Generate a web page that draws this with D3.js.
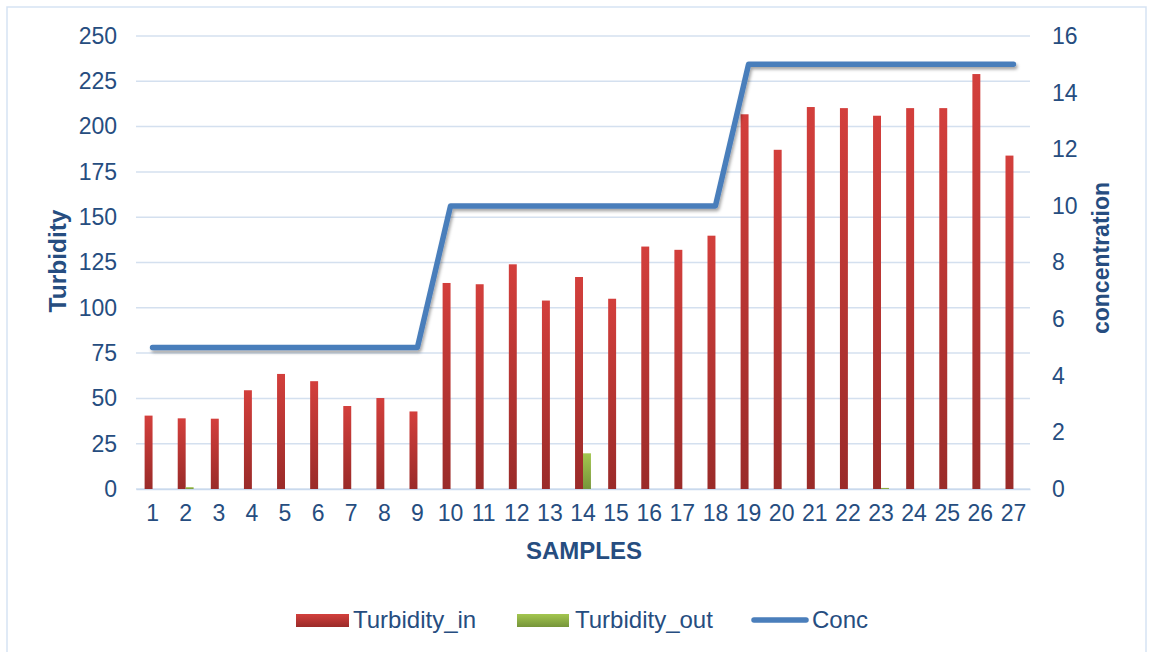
<!DOCTYPE html>
<html>
<head>
<meta charset="utf-8">
<script src="https://cdn.jsdelivr.net/npm/d3@7"></script>
<style>
  body { margin: 0; background: #fff; }
  text { font-family: "Liberation Sans", Arial, sans-serif; fill: #264d80; }
</style>
</head>
<body>
<div id="chart"></div>
<script>
// data
var samples = d3.range(1, 28).map(String);
var turbidityIn = [40.5, 39, 38.8, 54.5, 63.5, 59.5, 45.8, 50.2, 42.8,
  113.7, 113, 124, 104, 117, 105, 133.8, 132, 139.8,
  206.8, 187.2, 210.8, 210.2, 206, 210.2, 210.2, 229, 184];
var turbidityOut = [0, 1, 0, 0, 0, 0, 0, 0, 0,
  0, 0, 0, 0, 19.7, 0, 0, 0, 0,
  0, 0, 0, 0, 0.6, 0, 0, 0, 0];
var conc = [5, 5, 5, 5, 5, 5, 5, 5, 5,
  10, 10, 10, 10, 10, 10, 10, 10, 10,
  15, 15, 15, 15, 15, 15, 15, 15, 15];
var leftTicks = [0, 25, 50, 75, 100, 125, 150, 175, 200, 225, 250];
var rightTicks = [0, 2, 4, 6, 8, 10, 12, 14, 16];

var svgWidth = 1149;
var svgHeight = 652;
var margin = { top: 36, right: 119, bottom: 163, left: 136 };
var width = svgWidth - margin.left - margin.right;
var height = svgHeight - margin.top - margin.bottom;

var svg = d3.select("#chart")
  .append("svg")
  .attr("width", svgWidth)
  .attr("height", svgHeight);

var defs = svg.append("defs");
var gRed = defs.append("linearGradient").attr("id", "gradRed")
  .attr("x1", 0).attr("y1", 0).attr("x2", 0).attr("y2", 1);
gRed.append("stop").attr("offset", "0%").attr("stop-color", "#d33f3c");
gRed.append("stop").attr("offset", "100%").attr("stop-color", "#9a2b29");
var gGreen = defs.append("linearGradient").attr("id", "gradGreen")
  .attr("x1", 0).attr("y1", 0).attr("x2", 0).attr("y2", 1);
gGreen.append("stop").attr("offset", "0%").attr("stop-color", "#a3c64f");
gGreen.append("stop").attr("offset", "100%").attr("stop-color", "#76953a");
var shadow = defs.append("filter").attr("id", "shadow")
  .attr("x", "-10%").attr("y", "-10%").attr("width", "120%").attr("height", "130%");
shadow.append("feDropShadow").attr("dx", 1.5).attr("dy", 2.5)
  .attr("stdDeviation", 1.5).attr("flood-color", "#000").attr("flood-opacity", 0.35);

// outer chart border
svg.append("rect")
  .attr("x", 7).attr("y", 7)
  .attr("width", 1139).attr("height", 660)
  .attr("fill", "none")
  .attr("stroke", "#d6e3f3")
  .attr("stroke-width", 1.5);

var chartGroup = svg.append("g")
  .attr("transform", `translate(${margin.left}, ${margin.top})`);

var xBand = d3.scaleBand()
  .domain(samples)
  .range([0, width])
  .paddingInner(0.52)
  .paddingOuter(0.26);

var xSub = d3.scaleBand()
  .domain(["in", "out"])
  .range([0, xBand.bandwidth()]);

var yLeft = d3.scaleLinear().domain([0, 250]).range([height, 0]);
var yRight = d3.scaleLinear().domain([0, 16]).range([height, 0]);

// gridlines
chartGroup.append("g")
  .selectAll("line")
  .data(leftTicks)
  .enter()
  .append("line")
  .attr("x1", 0)
  .attr("x2", width)
  .attr("y1", d => yLeft(d))
  .attr("y2", d => yLeft(d))
  .attr("stroke", "#d4e0ef")
  .attr("stroke-width", 1.5);

// left axis
var leftAxis = d3.axisLeft(yLeft).tickValues(leftTicks).tickSize(0).tickPadding(19);
var gl = chartGroup.append("g").call(leftAxis);
gl.select(".domain").remove();
gl.selectAll("text").attr("font-size", "23px").attr("fill", "#264d80")
  .attr("font-family", "Liberation Sans, Arial, sans-serif");

// right axis
var rightAxis = d3.axisRight(yRight).tickValues(rightTicks).tickSize(0).tickPadding(22);
var gr = chartGroup.append("g").attr("transform", `translate(${width}, 0)`).call(rightAxis);
gr.select(".domain").remove();
gr.selectAll("text").attr("font-size", "23px").attr("fill", "#264d80")
  .attr("font-family", "Liberation Sans, Arial, sans-serif");

// bottom axis
var bottomAxis = d3.axisBottom(xBand).tickSize(0).tickPadding(16);
var gb = chartGroup.append("g").attr("transform", `translate(0, ${height})`).call(bottomAxis);
gb.select(".domain").attr("stroke", "#c9d9ed").attr("stroke-width", 1.5);
gb.selectAll("text").attr("font-size", "23px").attr("fill", "#264d80")
  .attr("font-family", "Liberation Sans, Arial, sans-serif");

// bars
chartGroup.append("g")
  .selectAll("rect")
  .data(turbidityIn)
  .enter()
  .append("rect")
  .attr("x", (d, i) => xBand(samples[i]) + xSub("in"))
  .attr("y", d => yLeft(d))
  .attr("width", xSub.bandwidth())
  .attr("height", d => height - yLeft(d))
  .attr("fill", "url(#gradRed)");

chartGroup.append("g")
  .selectAll("rect")
  .data(turbidityOut)
  .enter()
  .append("rect")
  .attr("x", (d, i) => xBand(samples[i]) + xSub("out"))
  .attr("y", d => yLeft(d))
  .attr("width", xSub.bandwidth())
  .attr("height", d => height - yLeft(d))
  .attr("fill", "url(#gradGreen)");

// conc line
var line = d3.line()
  .x((d, i) => xBand(samples[i]) + xBand.bandwidth() / 2)
  .y(d => yRight(d));

chartGroup.append("path")
  .datum(conc)
  .attr("d", line)
  .attr("fill", "none")
  .attr("stroke", "#4a7ebb")
  .attr("stroke-width", 5.5)
  .attr("stroke-linecap", "round")
  .attr("stroke-linejoin", "round")
  .attr("filter", "url(#shadow)");

// axis titles
svg.append("text")
  .attr("transform", "rotate(-90)")
  .attr("x", -261)
  .attr("y", 66)
  .attr("text-anchor", "middle")
  .attr("font-size", "24.5px")
  .attr("font-weight", "bold")
  .text("Turbidity");

svg.append("text")
  .attr("transform", "rotate(-90)")
  .attr("x", -258)
  .attr("y", 1109)
  .attr("text-anchor", "middle")
  .attr("font-size", "23px")
  .attr("font-weight", "bold")
  .text("concentration");

svg.append("text")
  .attr("x", 584)
  .attr("y", 559)
  .attr("text-anchor", "middle")
  .attr("font-size", "24px")
  .attr("font-weight", "bold")
  .text("SAMPLES");

// legend
var legend = svg.append("g");
legend.append("rect").attr("x", 296).attr("y", 614).attr("width", 53).attr("height", 13)
  .attr("fill", "url(#gradRed)");
legend.append("text").attr("x", 353).attr("y", 628).attr("font-size", "24px").text("Turbidity_in");
legend.append("rect").attr("x", 517).attr("y", 614).attr("width", 52).attr("height", 13)
  .attr("fill", "url(#gradGreen)");
legend.append("text").attr("x", 575).attr("y", 628).attr("font-size", "24px").text("Turbidity_out");
legend.append("line").attr("x1", 754).attr("x2", 806).attr("y1", 620).attr("y2", 620)
  .attr("stroke", "#4a7ebb").attr("stroke-width", 5.5).attr("stroke-linecap", "round");
legend.append("text").attr("x", 812).attr("y", 628).attr("font-size", "24px").text("Conc");
</script>
</body>
</html>
